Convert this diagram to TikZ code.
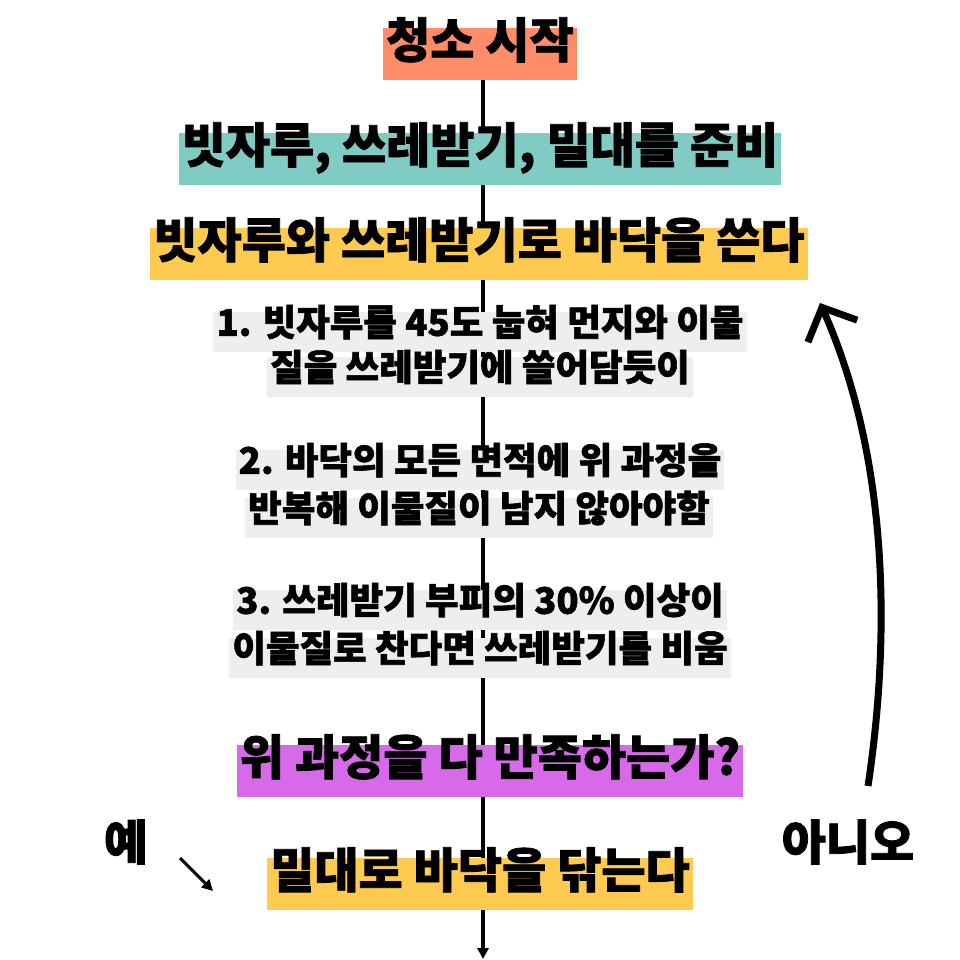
\documentclass[tikz,border=0pt]{standalone}
\usepackage{fontspec}
\setmainfont{Noto Sans CJK KR}[BoldFeatures={FakeBold=1.6}]
\usetikzlibrary{arrows.meta,backgrounds}
\definecolor{startcol}{HTML}{FF8C69}
\definecolor{prepcol}{HTML}{80CBC4}
\definecolor{sweepcol}{HTML}{FFCA50}
\definecolor{askcol}{HTML}{D76AE8}
\definecolor{stepgray}{HTML}{EEEEEE}
\tikzset{
  head/.style={font=\fontsize{48}{48}\selectfont\bfseries, text height=0.75em,
    text depth=0pt, minimum height=52pt, inner xsep=3pt, inner ysep=0pt},
  stepline/.style={font=\fontsize{36.5}{36.5}\selectfont\bfseries, fill=stepgray,
    text height=0.75em, text depth=0pt, minimum height=40pt, inner xsep=3pt, inner ysep=0pt},
  answer/.style={font=\fontsize{48}{48}\selectfont\bfseries, inner sep=0pt},
  flow/.style={line width=3.5pt},
}
\begin{document}
\begin{tikzpicture}[x=1pt, y=-1pt]
    \useasboundingbox (0,0) rectangle (960,960);
    % main column
    \node[head, fill=startcol] (start) at (480,54) {청소 시작};
    \node[head, fill=prepcol] (prep) at (480,159) {빗자루, 쓰레받기, 밀대를 준비};
    \node[head, fill=sweepcol] (sweep) at (479,254) {빗자루와 쓰레받기로 바닥을 쓴다};
    \node[stepline] (s1a) at (480,332) {1. 빗자루를 45도 눕혀 먼지와 이물};
    \node[stepline] (s1b) at (480,377) {질을 쓰레받기에 쓸어담듯이\ };
    \node[stepline] (s2a) at (480,470) {2. 바닥의 모든 면적에 위 과정을};
    \node[stepline] (s2b) at (479,518) {반복해 이물질이 남지 않아야함};
    \node[stepline] (s3a) at (480,610) {3. 쓰레받기 부피의 30\% 이상이};
    \node[stepline] (s3b) at (480,658) {이물질로 찬다면 쓰레받기를 비움};
    \node[head, fill=askcol] (ask) at (490,771) {위 과정을 다 만족하는가?};
    \node[head, fill=sweepcol] (mop) at (480,884) {밀대로 바닥을 닦는다};
    % answers
    \node[answer] (yes) at (126,842) {예};
    \node[answer] (no) at (848,842) {아니오};
    \coordinate (finish) at (483,959);
    \coordinate (yestail) at (180,858);
    \coordinate (yeshead) at (213,891);
    \coordinate (notail) at (868,786);
    \coordinate (nohead) at (820,303);
    \begin{scope}[on background layer]
        \draw[flow] (finish |- start.south) -- (finish |- mop.north);
    \end{scope}
    \draw[flow, -{Triangle[length=11pt, width=11pt]}] (finish |- mop.south) -- (finish);
    \draw[line width=3pt, -{Triangle[length=11pt, width=11pt]}] (yestail) -- (yeshead);
    \draw[line width=7pt, -{Straight Barb[length=26pt, width=54pt]}]
        (notail) .. controls (890,640) and (890,460) .. (nohead);
\end{tikzpicture}
\end{document}
